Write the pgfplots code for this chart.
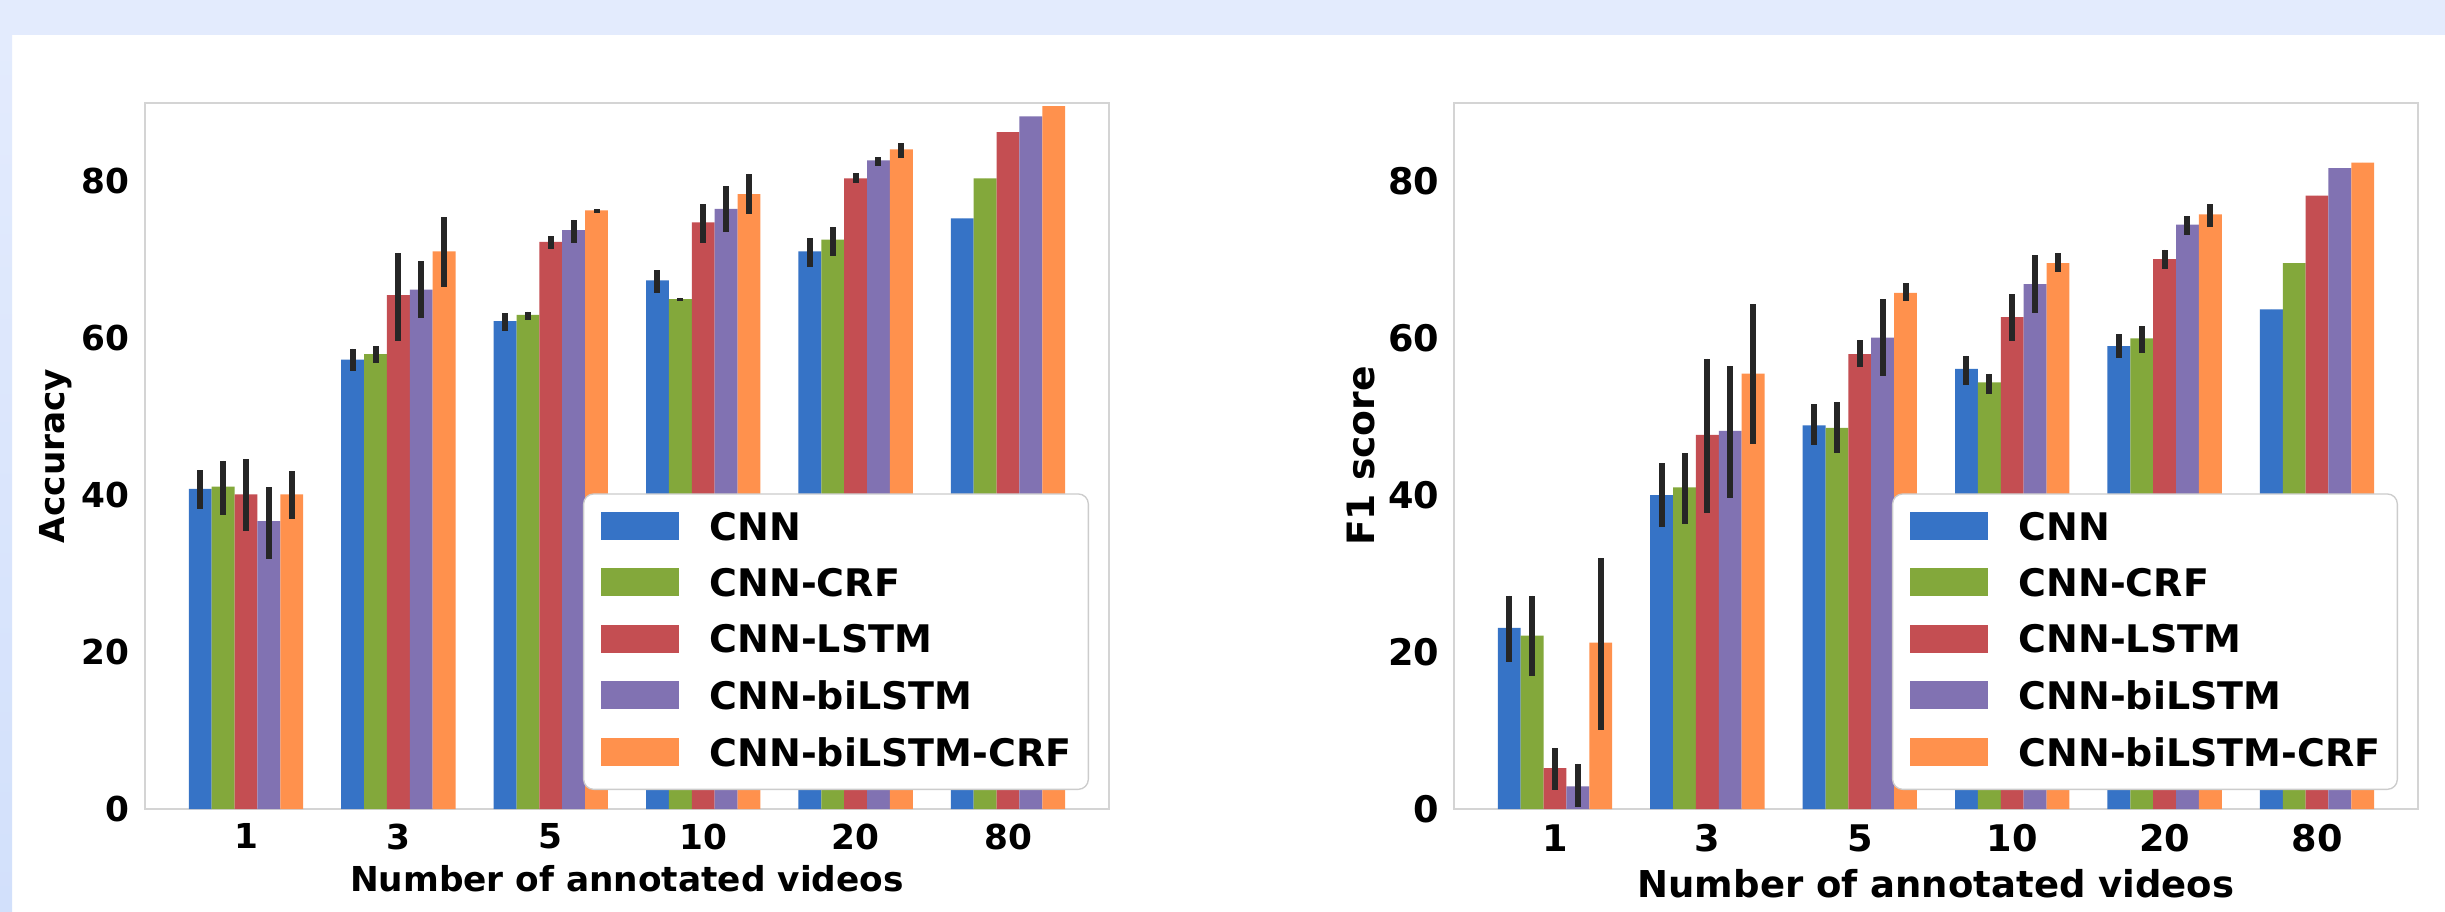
\documentclass[border=0pt]{standalone}
\usepackage{fontspec}
\setmainfont{DejaVu Sans}
\usepackage{pgfplots}
\usepackage{pgfplotstable}
\pgfplotsset{compat=1.18}

\definecolor{cnn}{HTML}{3673C6}
\definecolor{crf}{HTML}{83A83B}
\definecolor{lstm}{HTML}{C44E52}
\definecolor{bilstm}{HTML}{8172B2}
\definecolor{bicrf}{HTML}{FF914D}
\definecolor{errc}{HTML}{262626}
\definecolor{framec}{HTML}{D4D4D4}
\definecolor{legc}{HTML}{CCCCCC}
\definecolor{bandc}{HTML}{E3EBFD}

% mean, low and high end of the error bar for each model; g = group index
\pgfplotstableread{
g cnn  cnnlo cnnhi crf  crflo crfhi lstm lstmlo lstmhi bil  billo bilhi bic  biclo bichi
0 40.8 38.3  43.2  41.1 37.5  44.4  40.1 35.5   44.6   36.7 31.9  41.0  40.1 37.0  43.1
1 57.3 55.9  58.7  58.0 56.8  59.0  65.5 59.7   70.9   66.2 62.6  69.8  71.1 66.6  75.5
2 62.2 61.0  63.2  63.0 62.4  63.4  72.3 71.4   73.0   73.8 72.1  75.1  76.3 76.0  76.5
3 67.4 65.8  68.7  65.0 64.8  65.2  74.8 72.1   77.1   76.5 73.6  79.4  78.4 75.9  81.0
4 71.1 69.1  72.8  72.6 70.5  74.2  80.4 79.8   81.1   82.7 82.0  83.1  84.1 83.0  84.9
5 75.3 75.3  75.3  80.4 80.4  80.4  86.3 86.3   86.3   88.3 88.3  88.3  89.6 89.6  89.6
}\acc

\pgfplotstableread{
g cnn  cnnlo cnnhi crf  crflo crfhi lstm lstmlo lstmhi bil  billo bilhi bic  biclo bichi
0 23.1 18.8  27.2  22.1 17.0  27.2  5.2  2.4    7.8    2.9  0.2   5.8   21.2 10.1  32.0
1 40.0 36.0  44.1  41.0 36.3  45.4  47.7 37.7   57.4   48.2 39.6  56.5  55.5 46.5  64.4
2 48.9 46.4  51.6  48.6 45.4  51.9  58.0 56.4   59.8   60.1 55.2  65.0  65.8 64.7  67.0
3 56.1 54.1  57.8  54.4 52.9  55.5  62.7 59.7   65.6   66.9 63.2  70.6  69.6 68.4  70.9
4 59.0 57.5  60.5  60.0 58.1  61.6  70.1 68.9   71.3   74.5 73.2  75.6  75.8 74.2  77.1
5 63.7 63.7  63.7  69.6 69.6  69.6  78.2 78.2   78.2   81.7 81.7  81.7  82.4 82.4  82.4
}\fone

\pgfplotsset{
  panel/.style={
    scale only axis, width=289.2pt, height=211.8pt,
    anchor=south west,
    ybar, bar width=0.15,
    xmin=-0.6625, xmax=5.6625, ymin=0, ymax=90,
    enlargelimits=false,
    xtick={0,1,2,3,4,5}, xticklabels={1,3,5,10,20,80},
    ytick={0,20,40,60,80}, yticklabels={0,20,40,60,80},
    major tick length=0pt,
    axis line style={draw=framec, line width=0.8pt},
    every axis plot/.append style={draw=none, bar shift=0pt,
      error bars/y dir=both, error bars/y explicit,
      error bars/error mark=none,
      error bars/error bar style={draw=errc, line width=1.8pt}},
    leg/.style={legend image code/.code={
      \fill[##1, sharp corners] (0pt,0pt) rectangle (23.4pt,8.4pt);
      \path (32.7pt,-1.5pt);}},
    legend style={at={([xshift=-6pt,yshift=5.7pt]axis description cs:1,0)},
      anchor=south east, draw=legc, line width=0.4pt, rounded corners=3pt,
      fill=white, inner xsep=5.1pt, inner ysep=5.4pt, row sep=6.9pt,
      column sep=0pt, font=\fontsize{11.4}{13}\selectfont\bfseries,
      nodes={inner sep=0pt, anchor=base west}},
    legend cell align=left,
  },
}

\begin{document}
\begin{tikzpicture}
\useasboundingbox (0,0) rectangle (733.5pt,273.3pt);
\fill[white] (0,0) rectangle (733.5pt,273.3pt);
\fill[bandc] (0,262.8pt) rectangle (733.5pt,273.3pt);
\shade[top color=bandc, bottom color={rgb,255:red,210;green,224;blue,251}] (0,0) rectangle (3.6pt,262.8pt);

\begin{axis}[panel, at={(43.5pt,30.6pt)},
  xticklabel style={font=\fontsize{10.3}{12}\selectfont\bfseries, inner sep=0pt, yshift=-4.2pt},
  yticklabel style={font=\fontsize{10.3}{12}\selectfont\bfseries, inner sep=0pt, xshift=-4.5pt},
  xlabel={Number of annotated videos},
  ylabel={Accuracy},
  every axis x label/.style={at={(axis description cs:0.5,0)}, anchor=north,
    inner sep=0pt, yshift=-16.8pt, font=\fontsize{10.3}{12}\selectfont\bfseries},
  every axis y label/.style={at={([xshift=-21.6pt]axis description cs:0,0.5)},
    rotate=90, anchor=south, inner sep=0pt, font=\fontsize{10.3}{12}\selectfont\bfseries},
  ]
\addplot[leg, fill=cnn] table[x expr=\thisrow{g}-0.30, y=cnn,
  y error plus expr=\thisrow{cnnhi}-\thisrow{cnn}, y error minus expr=\thisrow{cnn}-\thisrow{cnnlo}] {\acc};
\addlegendentry{CNN}
\addplot[leg, fill=crf] table[x expr=\thisrow{g}-0.15, y=crf,
  y error plus expr=\thisrow{crfhi}-\thisrow{crf}, y error minus expr=\thisrow{crf}-\thisrow{crflo}] {\acc};
\addlegendentry{CNN-CRF}
\addplot[leg, fill=lstm] table[x expr=\thisrow{g}, y=lstm,
  y error plus expr=\thisrow{lstmhi}-\thisrow{lstm}, y error minus expr=\thisrow{lstm}-\thisrow{lstmlo}] {\acc};
\addlegendentry{CNN-LSTM}
\addplot[leg, fill=bilstm] table[x expr=\thisrow{g}+0.15, y=bil,
  y error plus expr=\thisrow{bilhi}-\thisrow{bil}, y error minus expr=\thisrow{bil}-\thisrow{billo}] {\acc};
\addlegendentry{CNN-biLSTM}
\addplot[leg, fill=bicrf] table[x expr=\thisrow{g}+0.30, y=bic,
  y error plus expr=\thisrow{bichi}-\thisrow{bic}, y error minus expr=\thisrow{bic}-\thisrow{biclo}] {\acc};
\addlegendentry{CNN-biLSTM-CRF}
\end{axis}

\begin{axis}[panel, at={(436.2pt,30.6pt)},
  xticklabel style={font=\fontsize{11}{13}\selectfont\bfseries, inner sep=0pt, yshift=-4.5pt},
  yticklabel style={font=\fontsize{11}{13}\selectfont\bfseries, inner sep=0pt, xshift=-4.2pt},
  xlabel={Number of annotated videos},
  ylabel={F1 score},
  every axis x label/.style={at={(axis description cs:0.5,0)}, anchor=north,
    inner sep=0pt, yshift=-18pt, font=\fontsize{11.1}{13}\selectfont\bfseries},
  every axis y label/.style={at={([xshift=-23.4pt]axis description cs:0,0.5)},
    rotate=90, anchor=south, inner sep=0pt, font=\fontsize{11.3}{13}\selectfont\bfseries},
  ]
\addplot[leg, fill=cnn] table[x expr=\thisrow{g}-0.30, y=cnn,
  y error plus expr=\thisrow{cnnhi}-\thisrow{cnn}, y error minus expr=\thisrow{cnn}-\thisrow{cnnlo}] {\fone};
\addlegendentry{CNN}
\addplot[leg, fill=crf] table[x expr=\thisrow{g}-0.15, y=crf,
  y error plus expr=\thisrow{crfhi}-\thisrow{crf}, y error minus expr=\thisrow{crf}-\thisrow{crflo}] {\fone};
\addlegendentry{CNN-CRF}
\addplot[leg, fill=lstm] table[x expr=\thisrow{g}, y=lstm,
  y error plus expr=\thisrow{lstmhi}-\thisrow{lstm}, y error minus expr=\thisrow{lstm}-\thisrow{lstmlo}] {\fone};
\addlegendentry{CNN-LSTM}
\addplot[leg, fill=bilstm] table[x expr=\thisrow{g}+0.15, y=bil,
  y error plus expr=\thisrow{bilhi}-\thisrow{bil}, y error minus expr=\thisrow{bil}-\thisrow{billo}] {\fone};
\addlegendentry{CNN-biLSTM}
\addplot[leg, fill=bicrf] table[x expr=\thisrow{g}+0.30, y=bic,
  y error plus expr=\thisrow{bichi}-\thisrow{bic}, y error minus expr=\thisrow{bic}-\thisrow{biclo}] {\fone};
\addlegendentry{CNN-biLSTM-CRF}
\end{axis}
\end{tikzpicture}
\end{document}
